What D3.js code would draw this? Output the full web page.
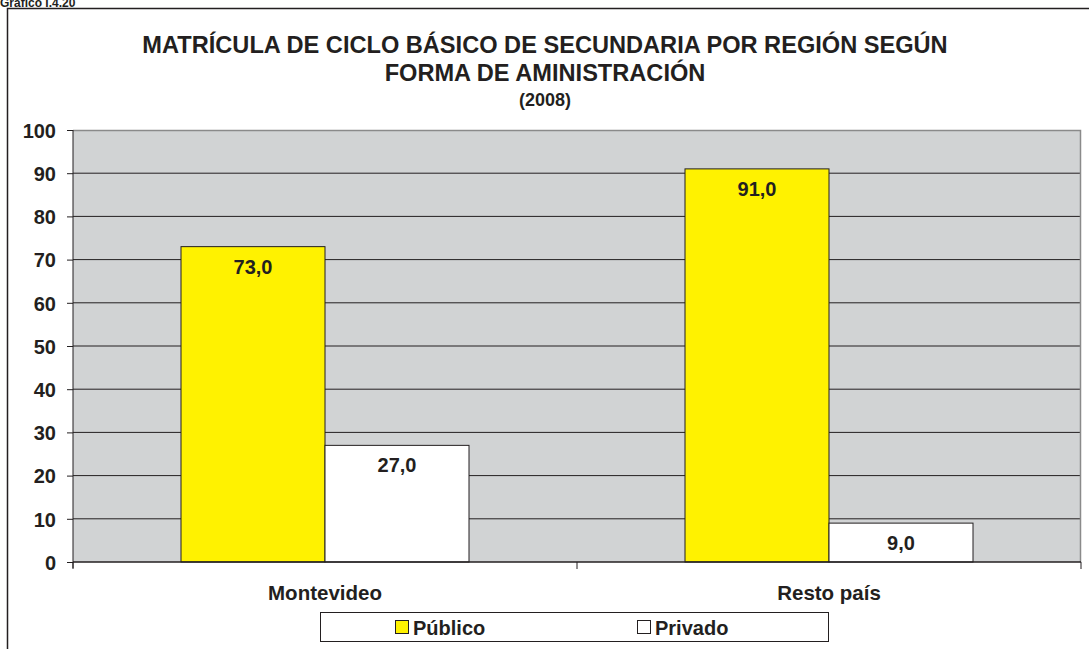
<!DOCTYPE html>
<html><head><meta charset="utf-8">
<script src="https://cdn.jsdelivr.net/npm/d3@7"></script>
<style>body{margin:0;background:#fff}svg{display:block;font-family:"Liberation Sans",Arial,sans-serif;font-weight:bold}</style>
</head><body><svg id="c" width="1089" height="649"></svg>
<script>
const categories = ["Montevideo", "Resto país"];
const seriesNames = ["Público", "Privado"];
const publico = [73.0, 91.0];
const privado = [27.0, 9.0];
const yTicks = [0,10,20,30,40,50,60,70,80,90,100];
const colors = ["#fff200", "#ffffff"];
const ink = "#231f20";
const FF = "Liberation Sans, Arial, sans-serif";

const svg = d3.select("#c");
// outer frame
svg.append("text").attr("x",0).attr("y",7).attr("font-size",12).attr("fill",ink).text("Gráfico I.4.20");
svg.append("path").attr("d","M7.5,649 V8.5 H1089").attr("fill","none").attr("stroke",ink).attr("stroke-width",1.5);

// title
const t = svg.append("g").attr("fill",ink).attr("text-anchor","middle");
t.append("text").attr("x",545).attr("y",53).attr("font-size",23.6).text("MATRÍCULA DE CICLO BÁSICO DE SECUNDARIA POR REGIÓN SEGÚN");
t.append("text").attr("x",545).attr("y",81).attr("font-size",23.6).text("FORMA DE AMINISTRACIÓN");
t.append("text").attr("x",545).attr("y",106).attr("font-size",18).text("(2008)");

const L=73, R=1081, T=130, B=562;
const x = d3.scaleBand().domain(categories).range([L,R]).paddingInner(0).paddingOuter(0);
const y = d3.scaleLinear().domain([0,100]).range([B,T]);
const groupW = x.bandwidth()*288/504;
const xs = d3.scaleBand().domain(seriesNames).range([0,groupW]);

svg.append("rect").attr("x",L).attr("y",T).attr("width",R-L).attr("height",B-T).attr("fill","#d1d3d4");
// gridlines
svg.append("g").selectAll("line").data(yTicks.filter(v=>v>0&&v<100)).join("line")
  .attr("x1",L).attr("x2",R).attr("y1",d=>y(d)).attr("y2",d=>y(d)).attr("stroke",ink).attr("stroke-width",1);
svg.append("path").attr("d",`M${L},${T+0.5} H${R-0.5} V${B}`).attr("fill","none").attr("stroke","#8a8a8a").attr("stroke-width",1.5);

const data = categories.map((c,i)=>[{c,s:seriesNames[0],v:publico[i],col:colors[0]},{c,s:seriesNames[1],v:privado[i],col:colors[1]}]).flat();
const bars = svg.append("g");
bars.selectAll("rect").data(data).join("rect")
  .attr("x",d=>x(d.c)+(x.bandwidth()-groupW)/2+xs(d.s))
  .attr("y",d=>y(d.v)).attr("width",xs.bandwidth()).attr("height",d=>B-y(d.v))
  .attr("fill",d=>d.col).attr("stroke",ink).attr("stroke-width",1);
bars.selectAll("text").data(data).join("text")
  .attr("x",d=>x(d.c)+(x.bandwidth()-groupW)/2+xs(d.s)+xs.bandwidth()/2)
  .attr("y",d=>y(d.v)+27).attr("text-anchor","middle").attr("font-size",20).attr("fill",ink)
  .text(d=>d3.format(".1f")(d.v).replace(".",","));

// y axis
const ya = svg.append("g").attr("transform",`translate(${L},0)`)
  .call(d3.axisLeft(y).tickValues(yTicks).tickSize(6).tickPadding(11).tickFormat(d3.format("d")));
ya.select(".domain").attr("stroke",ink).attr("d",`M0,${T}V${B+6}`);
ya.selectAll(".tick line").attr("stroke",ink);
ya.selectAll("text").attr("font-size",20).attr("fill",ink).attr("font-family",FF).attr("font-weight","bold").attr("dy","0.36em");

// x axis
const xa = svg.append("g").attr("transform",`translate(0,${B})`)
  .call(d3.axisBottom(x).tickSize(0).tickPadding(0));
xa.select(".domain").attr("stroke",ink).attr("stroke-width",1.5).attr("d",`M${L},0H${R}`);
xa.selectAll("text").attr("font-size",20.5).attr("fill",ink).attr("font-family",FF).attr("font-weight","bold").attr("y",38).attr("dy",0);
svg.append("g").selectAll("line").data([L, x(categories[1]), R]).join("line")
  .attr("x1",d=>d).attr("x2",d=>d).attr("y1",B).attr("y2",B+7).attr("stroke",ink);

// legend
const lg = svg.append("g");
lg.append("rect").attr("x",320.5).attr("y",612.5).attr("width",508).attr("height",29).attr("fill","#fff").attr("stroke",ink).attr("stroke-width",1);
const lx = [395, 637];
seriesNames.forEach((s,i)=>{
  lg.append("rect").attr("x",lx[i]+0.5).attr("y",620.5).attr("width",13).attr("height",13).attr("fill",colors[i]).attr("stroke",ink).attr("stroke-width",1);
  lg.append("text").attr("x",lx[i]+18).attr("y",635).attr("font-size",20).attr("fill",ink).text(s);
});
</script></body></html>
